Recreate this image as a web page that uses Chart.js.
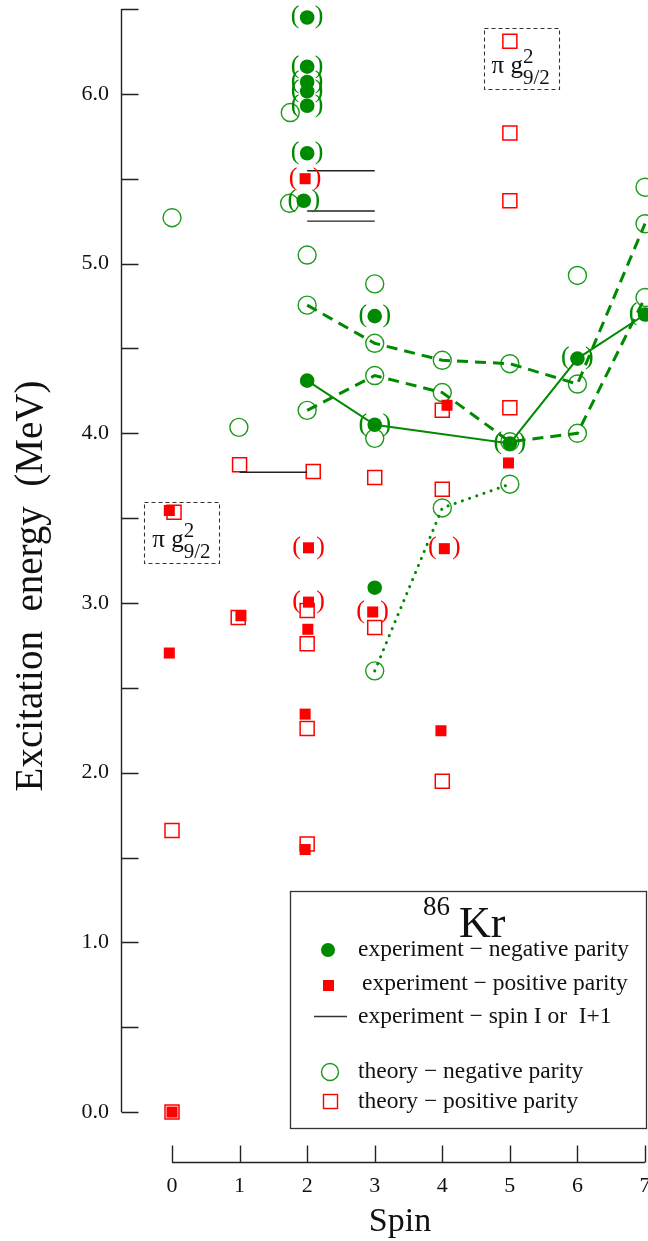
<!DOCTYPE html>
<html>
<head>
<meta charset="utf-8">
<script src="https://cdn.jsdelivr.net/npm/chart.js@4.4.1/dist/chart.umd.min.js"></script>
<style>
  html, body { margin: 0; padding: 0; background: #fff; }
  #wrap { width: 648px; height: 1241px; }
</style>
</head>
<body>
<div id="wrap"><canvas id="c" width="648" height="1241"></canvas></div>
<script>
// 86Kr level scheme: excitation energy (MeV) against spin

const spinTicks = [0, 1, 2, 3, 4, 5, 6, 7];
const energyTicks = [0, 0.5, 1, 1.5, 2, 2.5, 3, 3.5, 4, 4.5, 5, 5.5, 6, 6.5];
const energyTickLabels = ['0.0', '', '1.0', '', '2.0', '', '3.0', '', '4.0', '', '5.0', '', '6.0', ''];

// experiment, negative parity (1 = tentative, shown in parentheses)
const expNegSpin = [2, 2, 2, 2, 2, 2, 1.95, 2, 3, 3, 3, 5, 6, 7];
const expNegE    = [6.45, 6.16, 6.07, 6.015, 5.93, 5.65, 5.37, 4.31, 4.69, 4.05, 3.09, 3.94, 4.44, 4.70];
const expNegTent = [1, 1, 1, 1, 1, 1, 1, 0, 1, 1, 0, 1, 1, 1];

// experiment, positive parity
const expPosSpin = [0, -0.04, -0.04, 1.02, 1.97, 2.02, 2.02, 2.01, 1.97, 1.97, 2.97, 4.07, 4.03, 3.98, 4.98];
const expPosE    = [0.0, 2.705, 3.545, 2.925, 5.50, 3.325, 3.005, 2.845, 2.345, 1.547, 2.947, 4.165, 3.32, 2.247, 3.825];
const expPosTent = [0, 0, 0, 0, 1, 1, 1, 0, 0, 0, 1, 0, 1, 0, 0];

// experiment, spin I or I+1 (horizontal bars from spin I to I+1)
const ambigFrom = [1, 2, 2, 2];
const ambigTo   = [2, 3, 3, 3];
const ambigE    = [3.77, 5.547, 5.31, 5.25];

// theory, negative parity
const thNegSpin = [0, 0.99, 1.75, 1.74, 2, 2, 2, 3, 3, 3, 3, 3, 4, 4, 4, 5, 5, 5, 6, 6, 6, 7, 7, 7];
const thNegE    = [5.27, 4.035, 5.89, 5.355, 5.05, 4.755, 4.135, 4.88, 4.53, 4.34, 3.97, 2.60, 4.43, 4.24, 3.56, 4.41, 3.95, 3.70, 4.93, 4.29, 4.00, 5.45, 5.235, 4.80];

// theory, positive parity
const thPosSpin = [0, 0, 0.03, 0.98, 1.0, 2.09, 2, 2, 2, 2, 3, 3, 4, 4, 4, 5, 5, 5, 5];
const thPosE    = [0.0, 1.66, 3.535, 2.915, 3.815, 3.775, 2.955, 2.76, 2.26, 1.58, 3.74, 2.855, 4.135, 3.67, 1.95, 4.15, 5.37, 5.77, 6.31];

// band connections
const bandExpSpin = [2, 3, 5, 6, 7];
const bandExpE    = [4.31, 4.05, 3.94, 4.44, 4.70];
const bandThASpin = [2, 3, 4, 5, 6, 7];
const bandThAE    = [4.755, 4.53, 4.43, 4.41, 4.29, 5.235];
const bandThBSpin = [2, 3, 4, 5, 6, 7];
const bandThBE    = [4.135, 4.34, 4.24, 3.95, 4.00, 4.80];
const bandThCSpin = [3, 4, 5];
const bandThCE    = [2.60, 3.56, 3.70];

const GREEN = '#008a00';
const GREEN_OPEN = '#1c9a1c';
const RED = '#ff0000';
const SERIF = "'Liberation Serif', 'DejaVu Serif', serif";

const pts = (xs, ys) => xs.map((x, i) => ({ x: x, y: ys[i] }));
const segs = () => {
  const out = [];
  ambigE.forEach((e, i) => {
    out.push({ x: ambigFrom[i], y: e }, { x: ambigTo[i], y: e }, { x: ambigTo[i], y: null });
  });
  return out;
};

// axis lines with inward ticks, detached x axis
const axesPlugin = {
  id: 'axes',
  beforeDatasetsDraw(chart) {
    const { ctx, scales: { x, y }, chartArea } = chart;
    ctx.save();
    ctx.strokeStyle = '#222';
    ctx.lineWidth = 1.4;
    const ax = chartArea.left + 0.5;
    ctx.beginPath();
    ctx.moveTo(ax, y.getPixelForValue(energyTicks[0]));
    ctx.lineTo(ax, y.getPixelForValue(energyTicks[energyTicks.length - 1]));
    energyTicks.forEach(v => {
      const py = Math.round(y.getPixelForValue(v)) + 0.5;
      ctx.moveTo(ax, py);
      ctx.lineTo(ax + 17, py);
    });
    const by = chartArea.bottom - 0.5;
    ctx.moveTo(x.getPixelForValue(spinTicks[0]), by);
    ctx.lineTo(x.getPixelForValue(spinTicks[spinTicks.length - 1]), by);
    spinTicks.forEach(v => {
      const px = Math.round(x.getPixelForValue(v)) + 0.5;
      ctx.moveTo(px, by);
      ctx.lineTo(px, by - 17);
    });
    ctx.stroke();

    // x axis title
    ctx.fillStyle = '#111';
    ctx.font = '34px ' + SERIF;
    ctx.textAlign = 'center';
    ctx.textBaseline = 'middle';
    ctx.fillText('Spin', 400, 1222);
    ctx.restore();
  }
};

// parentheses around tentative levels
const parenPlugin = {
  id: 'parens',
  afterDatasetsDraw(chart) {
    const { ctx } = chart;
    ctx.save();
    ctx.font = '26px ' + SERIF;
    ctx.textAlign = 'center';
    ctx.textBaseline = 'middle';
    chart.data.datasets.forEach((ds, di) => {
      if (!ds.parenFlags) return;
      const meta = chart.getDatasetMeta(di);
      ctx.fillStyle = ds.parenColor;
      meta.data.forEach((el, i) => {
        if (!ds.parenFlags[i]) return;
        ctx.fillText('(', el.x - 12, el.y - 1);
        ctx.fillText(')', el.x + 12, el.y - 1);
      });
    });
    ctx.restore();
  }
};

// dashed configuration boxes and the legend panel
const notesPlugin = {
  id: 'notes',
  afterDraw(chart) {
    const { ctx, scales: { x, y } } = chart;
    ctx.save();
    const boxes = [
      { s0: -0.41, s1: 0.70, e0: 3.235, e1: 3.596 },
      { s0: 4.61, s1: 5.72, e0: 6.03, e1: 6.39 }
    ];
    boxes.forEach(b => {
      const l = x.getPixelForValue(b.s0), r = x.getPixelForValue(b.s1);
      const t = y.getPixelForValue(b.e1), btm = y.getPixelForValue(b.e0);
      ctx.setLineDash([4, 3]);
      ctx.strokeStyle = '#333';
      ctx.lineWidth = 1.1;
      ctx.strokeRect(Math.round(l) + 0.5, Math.round(t) + 0.5, Math.round(r - l), Math.round(btm - t));
      ctx.setLineDash([]);
      ctx.fillStyle = '#111';
      ctx.textAlign = 'left';
      ctx.textBaseline = 'alphabetic';
      ctx.font = '25px ' + SERIF;
      const tx = l + 8;
      ctx.fillText('\u03c0 g', tx, t + 45);
      const w = ctx.measureText('\u03c0 g').width;
      ctx.font = '21px ' + SERIF;
      ctx.fillText('2', tx + w, t + 35);
      ctx.fillText('9/2', tx + w, t + 56);
    });

    // legend panel
    const L = 290, T = 891, R = 646, B = 1128;
    ctx.strokeStyle = '#333';
    ctx.lineWidth = 1.3;
    ctx.strokeRect(L + 0.5, T + 0.5, R - L, B - T);
    ctx.fillStyle = '#111';
    ctx.font = '27px ' + SERIF;
    ctx.fillText('86', 423, 915);
    ctx.font = '44px ' + SERIF;
    ctx.fillText('Kr', 459, 937);

    ctx.font = '23.5px ' + SERIF;
    ctx.fillText('experiment \u2212 negative parity', 358, 956);
    ctx.fillText('experiment \u2212 positive parity', 362, 990);
    ctx.fillText('experiment \u2212 spin I or  I+1', 358, 1023);
    ctx.fillText('theory \u2212 negative parity', 358, 1078);
    ctx.fillText('theory \u2212 positive parity', 358, 1108);

    // legend markers
    ctx.fillStyle = GREEN;
    ctx.beginPath(); ctx.arc(328, 950, 7, 0, Math.PI * 2); ctx.fill();
    ctx.fillStyle = RED;
    ctx.fillRect(323, 980, 11, 11);
    ctx.strokeStyle = '#333';
    ctx.lineWidth = 1.3;
    ctx.beginPath(); ctx.moveTo(314, 1016.5); ctx.lineTo(347, 1016.5); ctx.stroke();
    ctx.strokeStyle = GREEN_OPEN;
    ctx.lineWidth = 1.4;
    ctx.beginPath(); ctx.arc(330, 1072, 8.5, 0, Math.PI * 2); ctx.stroke();
    ctx.strokeStyle = RED;
    ctx.strokeRect(323.5, 1094.5, 14, 14);
    ctx.restore();
  }
};

Chart.defaults.font.family = SERIF;
Chart.defaults.color = '#111';

new Chart(document.getElementById('c'), {
  type: 'scatter',
  data: {
    datasets: [
      {
        label: 'experiment \u2212 negative parity',
        data: pts(expNegSpin, expNegE),
        parenFlags: expNegTent, parenColor: GREEN,
        pointStyle: 'circle', pointRadius: 7.3, pointBackgroundColor: GREEN, pointBorderWidth: 0,
        showLine: false, order: 1, clip: false
      },
      {
        label: 'experiment \u2212 positive parity',
        data: pts(expPosSpin, expPosE),
        parenFlags: expPosTent, parenColor: RED,
        pointStyle: 'rect', pointRadius: 7.8, pointBackgroundColor: RED, pointBorderWidth: 0,
        showLine: false, order: 2, clip: false
      },
      {
        label: 'band exp',
        data: pts(bandExpSpin, bandExpE),
        showLine: true, borderColor: GREEN, borderWidth: 2, pointRadius: 0,
        order: 3, clip: false
      },
      {
        label: 'band th A',
        data: pts(bandThASpin, bandThAE),
        showLine: true, borderColor: GREEN, borderWidth: 3, borderDash: [11, 7], pointRadius: 0,
        order: 3, clip: false
      },
      {
        label: 'band th B',
        data: pts(bandThBSpin, bandThBE),
        showLine: true, borderColor: GREEN, borderWidth: 3, borderDash: [11, 7], pointRadius: 0,
        order: 3, clip: false
      },
      {
        label: 'band th C',
        data: pts(bandThCSpin, bandThCE),
        showLine: true, borderColor: GREEN, borderWidth: 3, borderDash: [0.1, 7.5],
        borderCapStyle: 'round', pointRadius: 0,
        order: 3, clip: false
      },
      {
        label: 'experiment \u2212 spin I or I+1',
        data: segs(),
        showLine: true, spanGaps: false, borderColor: '#222', borderWidth: 1.4, pointRadius: 0,
        order: 4, clip: false
      },
      {
        label: 'theory \u2212 negative parity',
        data: pts(thNegSpin, thNegE),
        pointStyle: 'circle', pointRadius: 9, pointBackgroundColor: 'rgba(0,0,0,0)',
        pointBorderColor: GREEN_OPEN, pointBorderWidth: 1.4,
        showLine: false, order: 6, clip: false
      },
      {
        label: 'theory \u2212 positive parity',
        data: pts(thPosSpin, thPosE),
        pointStyle: 'rect', pointRadius: 9.9, pointBackgroundColor: 'rgba(0,0,0,0)',
        pointBorderColor: RED, pointBorderWidth: 1.5,
        showLine: false, order: 7, clip: false
      }
    ]
  },
  options: {
    responsive: false,
    animation: false,
    devicePixelRatio: 1,
    events: [],
    layout: { autoPadding: false, padding: { top: 9, right: 3, left: 0, bottom: 0 } },
    plugins: { legend: { display: false }, tooltip: { enabled: false } },
    scales: {
      x: {
        type: 'linear',
        min: -0.755, max: 7,
        afterBuildTicks(s) { s.ticks = spinTicks.map(v => ({ value: v })); },
        afterFit(s) { s.height = 78; s.paddingLeft = 0; s.paddingRight = 0; },
        grid: { display: false, drawTicks: false },
        border: { display: false },
        ticks: {
          autoSkip: false, maxRotation: 0, padding: 10, color: '#111',
          font: { size: 22, family: SERIF },
          callback: v => String(v)
        },
        title: { display: false }
      },
      y: {
        type: 'linear',
        min: -0.3, max: 6.5,
        afterBuildTicks(s) { s.ticks = energyTicks.map(v => ({ value: v })); },
        afterFit(s) { s.width = 121; s.paddingTop = 0; s.paddingBottom = 0; },
        grid: { display: false, drawTicks: false },
        border: { display: false },
        ticks: {
          autoSkip: false, padding: 12, color: '#111',
          font: { size: 22, family: SERIF },
          callback: (v, i) => energyTickLabels[i]
        },
        title: {
          display: true,
          text: 'Excitation  energy  (MeV)',
          color: '#111',
          font: { size: 39, family: SERIF },
          padding: { top: 8, bottom: 0 }
        }
      }
    }
  },
  plugins: [axesPlugin, parenPlugin, notesPlugin]
});
</script>
</body>
</html>
